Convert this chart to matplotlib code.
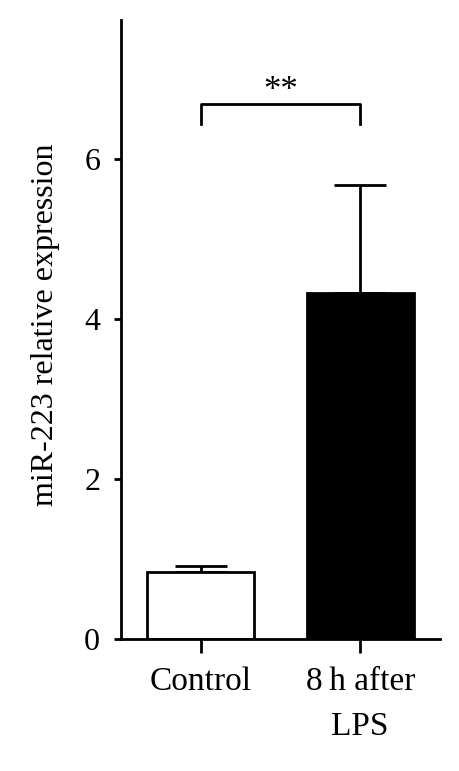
import numpy as np
import matplotlib
matplotlib.use("Agg")
import matplotlib.pyplot as plt

# -----------------------------
# Data
# -----------------------------
groups = ["Control", "8\u2009h after\nLPS"]
means = [0.84, 4.33]
upper_err = [0.07, 1.35]
bar_colors = ["white", "black"]

# significance bracket
bracket_x = [0, 1]
bracket_low = 6.44
bracket_high = 6.69
sig_label = "**"

plt.rcParams["font.family"] = ["Liberation Serif", "DejaVu Serif"]

fig = plt.figure(figsize=(4.6, 7.71), dpi=100)
ax = fig.add_axes([0.263, 0.1712, 0.6935, 0.8028])

x = np.arange(len(groups))
ax.bar(x, means, width=0.67, color=bar_colors, edgecolor="black",
       linewidth=2, zorder=2)
ax.errorbar(x, means, yerr=[np.zeros(len(means)), upper_err], fmt="none",
            ecolor="black", elinewidth=2, capsize=19, capthick=2, zorder=1)

# bracket
ax.plot([bracket_x[0], bracket_x[0], bracket_x[1], bracket_x[1]],
        [bracket_low, bracket_high, bracket_high, bracket_low],
        color="black", lw=2, clip_on=False)
ax.text(np.mean(bracket_x), 6.74, sig_label,
        ha="center", va="baseline", fontsize=25)

ax.set_xlim(-0.5, 1.5)
ax.set_ylim(0, 7.74)
ax.set_yticks([0, 2, 4, 6])
ax.set_xticks(x)
ax.set_xticklabels(groups, fontsize=24, linespacing=1.6)
ax.tick_params(axis="y", labelsize=23, width=2, length=5, pad=10)
ax.tick_params(axis="x", width=2, length=10, pad=10)
ax.set_ylabel("miR-223 relative expression", fontsize=23)
ax.yaxis.set_label_coords(-0.19, 0.507)

for s in ["top", "right"]:
    ax.spines[s].set_visible(False)
for s in ["left", "bottom"]:
    ax.spines[s].set_linewidth(2)

fig.savefig("out.png", dpi=100)
